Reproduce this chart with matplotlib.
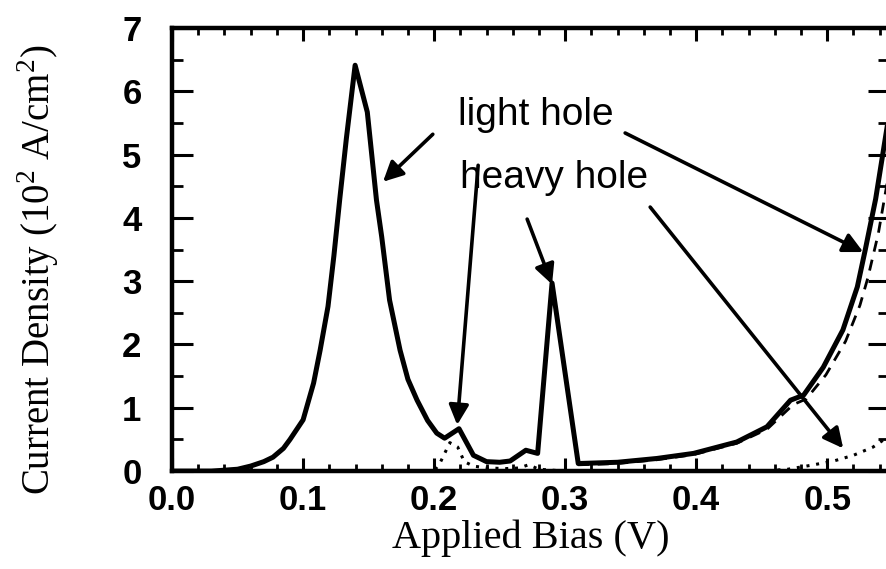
import matplotlib
matplotlib.use('Agg')
import matplotlib.pyplot as plt
from matplotlib.ticker import MultipleLocator

plt.rcParams['mathtext.fontset'] = 'custom'
plt.rcParams['mathtext.rm'] = 'Liberation Serif'

# total current (solid)
bias_total = [0.0, 0.03, 0.05, 0.06, 0.07, 0.077, 0.085, 0.09, 0.10, 0.108, 0.113,
              0.119, 0.1235, 0.128, 0.133, 0.1397, 0.149, 0.156, 0.160, 0.166, 0.174,
              0.180, 0.187, 0.195, 0.202, 0.208, 0.219, 0.230, 0.240, 0.250, 0.258,
              0.270, 0.279, 0.290, 0.310, 0.340, 0.370, 0.398, 0.431, 0.454, 0.472,
              0.482, 0.497, 0.512, 0.523, 0.529, 0.537, 0.547]
j_total = [0.0, 0.0, 0.03, 0.08, 0.15, 0.22, 0.36, 0.50, 0.81, 1.39, 1.91,
           2.60, 3.40, 4.30, 5.25, 6.41, 5.67, 4.28, 3.70, 2.70, 1.91,
           1.45, 1.12, 0.80, 0.60, 0.52, 0.67, 0.25, 0.15, 0.14, 0.16,
           0.33, 0.28, 2.97, 0.12, 0.14, 0.20, 0.28, 0.46, 0.70, 1.12,
           1.20, 1.64, 2.23, 2.91, 3.49, 4.30, 5.60]

# light hole (dashed)
bias_lh = [0.31, 0.34, 0.37, 0.398, 0.431, 0.454, 0.474, 0.484, 0.499, 0.514,
           0.525, 0.531, 0.539, 0.547]
j_lh = [0.10, 0.12, 0.18, 0.26, 0.44, 0.66, 1.05, 1.14, 1.52, 2.05,
        2.62, 3.05, 3.75, 4.70]

# heavy hole (dotted)
bias_hh = [0.0, 0.200, 0.205, 0.212, 0.218, 0.223, 0.230, 0.240, 0.255, 0.265,
           0.272, 0.280, 0.300, 0.450, 0.470, 0.487, 0.505, 0.520, 0.535, 0.547]
j_hh = [0.0, 0.0, 0.15, 0.45, 0.38, 0.15, 0.08, 0.05, 0.04, 0.05,
        0.10, 0.03, 0.0, 0.0, 0.03, 0.09, 0.16, 0.25, 0.38, 0.55]

fig = plt.figure(figsize=(8.87, 5.69), dpi=100)
ax = fig.add_axes([0.194, 0.172, 0.808, 0.779])

ax.plot(bias_hh, j_hh, color='black', lw=2.2, linestyle=(0, (1, 2.2)))
ax.plot(bias_lh, j_lh, color='black', lw=2.0, linestyle=(0, (4, 3)))
ax.plot(bias_total, j_total, color='black', lw=3.6)

ax.set_xlim(0, 0.547)
ax.set_ylim(0, 7)
ax.xaxis.set_major_locator(MultipleLocator(0.1))
ax.xaxis.set_minor_locator(MultipleLocator(0.02))
ax.yaxis.set_major_locator(MultipleLocator(1))
ax.yaxis.set_minor_locator(MultipleLocator(0.5))
ax.xaxis.set_major_formatter(plt.FuncFormatter(lambda v, p: f'{v:.1f}'))

for s in ax.spines.values():
    s.set_linewidth(3.2)

ax.tick_params(axis='x', which='major', direction='in', length=9.5, width=2.2,
               top=True, pad=9)
ax.tick_params(axis='x', which='minor', direction='in', length=5, width=2.0, top=True)
ax.tick_params(axis='y', which='major', direction='in', length=15, width=2.2,
               right=True, pad=22)
ax.tick_params(axis='y', which='minor', direction='in', length=8, width=2.0, right=True)

for lab in ax.get_xticklabels() + ax.get_yticklabels():
    lab.set_fontfamily('Liberation Sans')
    lab.set_fontweight('bold')
    lab.set_fontsize(25)

ax.set_xlabel('Applied Bias (V)', fontfamily='Liberation Serif', fontsize=29)
ax.set_ylabel('Current Density (10$^2$ A/cm$^2$)', fontfamily='Liberation Serif',
              fontsize=28)
ax.xaxis.set_label_coords(0.5, -0.11)
ax.yaxis.set_label_coords(-0.155, 0.455)

ax.text(0.2183, 5.62, 'light hole', fontfamily='Liberation Sans', fontsize=28,
        ha='left', va='center')
ax.text(0.2195, 4.63, 'heavy hole', fontfamily='Liberation Sans', fontsize=28,
        ha='left', va='center')

arrow_kw = dict(arrowstyle='-|>', color='black', lw=2.6, mutation_scale=30,
                shrinkA=0, shrinkB=0)
# (tail, head) in data coords
arrows = [
    ((0.199, 5.32), (0.161, 4.57)),
    ((0.3458, 5.34), (0.5275, 3.46)),
    ((0.2336, 4.83), (0.2176, 0.73)),
    ((0.2710, 3.98), (0.2900, 2.95)),
    ((0.3649, 4.17), (0.5122, 0.36)),
]
for tail, head in arrows:
    ax.annotate('', xy=head, xytext=tail, arrowprops=arrow_kw)

fig.savefig('out.png', dpi=100)
